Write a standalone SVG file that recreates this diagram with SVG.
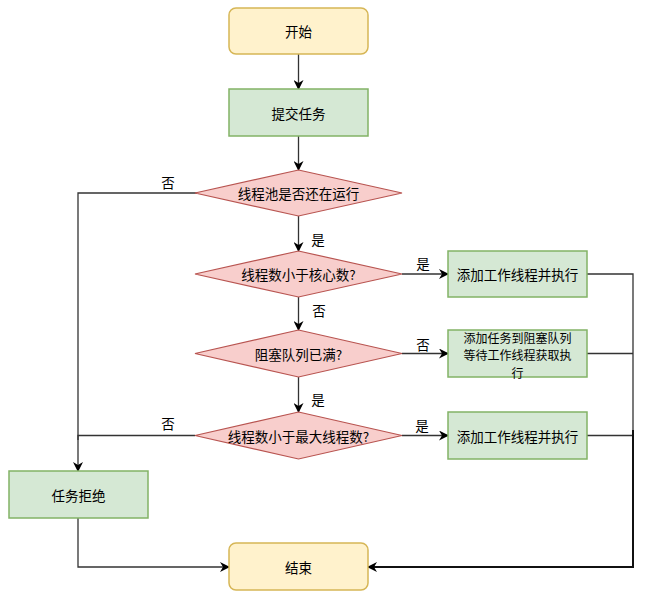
<svg xmlns="http://www.w3.org/2000/svg" width="646" height="598" viewBox="0 0 646 598">
<defs>
<marker id="arr" viewBox="0 0 10 10" refX="9" refY="5" markerWidth="10" markerHeight="10" markerUnits="userSpaceOnUse" orient="auto">
<path d="M0,0 L10,5 L0,10 L3,5 Z" fill="#000"/>
</marker>
<style>
.t{font-family:"Noto Sans CJK SC","Liberation Sans",sans-serif;font-size:13.5px;fill:#000;text-anchor:middle;dominant-baseline:central}
.s{font-size:12px}
.y{fill:#fff2cc;stroke:#d6b656;stroke-width:1.5}
.g{fill:#d5e8d4;stroke:#82b366;stroke-width:1.5}
.r{fill:#f8cecc;stroke:#b85450;stroke-width:1.2}
.c{fill:none;stroke:#333;stroke-width:1.3}
.ca{fill:none;stroke:#333;stroke-width:1.3;marker-end:url(#arr)}
.cb{fill:none;stroke:#111;stroke-width:2;marker-end:url(#arr)}
</style>
</defs>
<rect width="646" height="598" fill="#fff"/>
<g id="connectors">
<path class="ca" d="M298.5,54 V89"/>
<path class="ca" d="M298.5,136 V170"/>
<path class="ca" d="M298.5,216 V251"/>
<path class="ca" d="M298.5,297 V330"/>
<path class="ca" d="M298.5,377 V412"/>
<path class="ca" d="M402,274 H448"/>
<path class="ca" d="M402,353.5 H448"/>
<path class="ca" d="M402,435.5 H448"/>
<path class="c" d="M197,193 H78 V440"/>
<path class="ca" d="M195,435.5 H78 V471"/>
<path class="ca" d="M78,518 V567 H229"/>
<path class="c" d="M587,274 H633 V567"/>
<path class="c" d="M587,353.5 H633"/>
<path class="c" d="M587,435.5 H633"/>
<path class="cb" d="M633,430 V567 H368"/>
<text class="t" x="168" y="182">否</text>
<text class="t" x="318" y="239">是</text>
<text class="t" x="423" y="263">是</text>
<text class="t" x="319" y="310">否</text>
<text class="t" x="423" y="344">否</text>
<text class="t" x="318" y="399">是</text>
<text class="t" x="168" y="423">否</text>
<text class="t" x="422" y="425">是</text>
</g>
<g id="start"><rect class="y" x="229" y="8" width="139" height="46" rx="7"/><text class="t" x="298.5" y="31">开始</text></g>
<g id="submit"><rect class="g" x="229" y="89" width="139" height="47"/><text class="t" x="298.5" y="112.5">提交任务</text></g>
<g id="d1"><polygon class="r" points="298.5,170 402,193 298.5,216 195,193"/><text class="t" x="298.5" y="193">线程池是否还在运行</text></g>
<g id="d2"><polygon class="r" points="298.5,251 402,274 298.5,297 195,274"/><text class="t" x="298.5" y="274">线程数小于核心数?</text></g>
<g id="d3"><polygon class="r" points="298.5,330 402,353.5 298.5,377 195,353.5"/><text class="t" x="298.5" y="353.5">阻塞队列已满?</text></g>
<g id="d4"><polygon class="r" points="298.5,412 402,435.5 298.5,459 195,435.5"/><text class="t" x="298.5" y="435.5">线程数小于最大线程数?</text></g>
<g id="b1"><rect class="g" x="448" y="251" width="139" height="46"/><text class="t" x="517.5" y="274">添加工作线程并执行</text></g>
<g id="b2"><rect class="g" x="448" y="330" width="139" height="47"/><text class="t s" x="517.5" y="337">添加任务到阻塞队列</text><text class="t s" x="517.5" y="354.5">等待工作线程获取执</text><text class="t s" x="517.5" y="372">行</text></g>
<g id="b3"><rect class="g" x="448" y="412" width="139" height="47"/><text class="t" x="517.5" y="435.5">添加工作线程并执行</text></g>
<g id="reject"><rect class="g" x="9" y="471" width="139" height="47"/><text class="t" x="78.5" y="494.5">任务拒绝</text></g>
<g id="end"><rect class="y" x="229" y="543" width="139" height="47" rx="7"/><text class="t" x="298.5" y="566.5">结束</text></g>
</svg>
